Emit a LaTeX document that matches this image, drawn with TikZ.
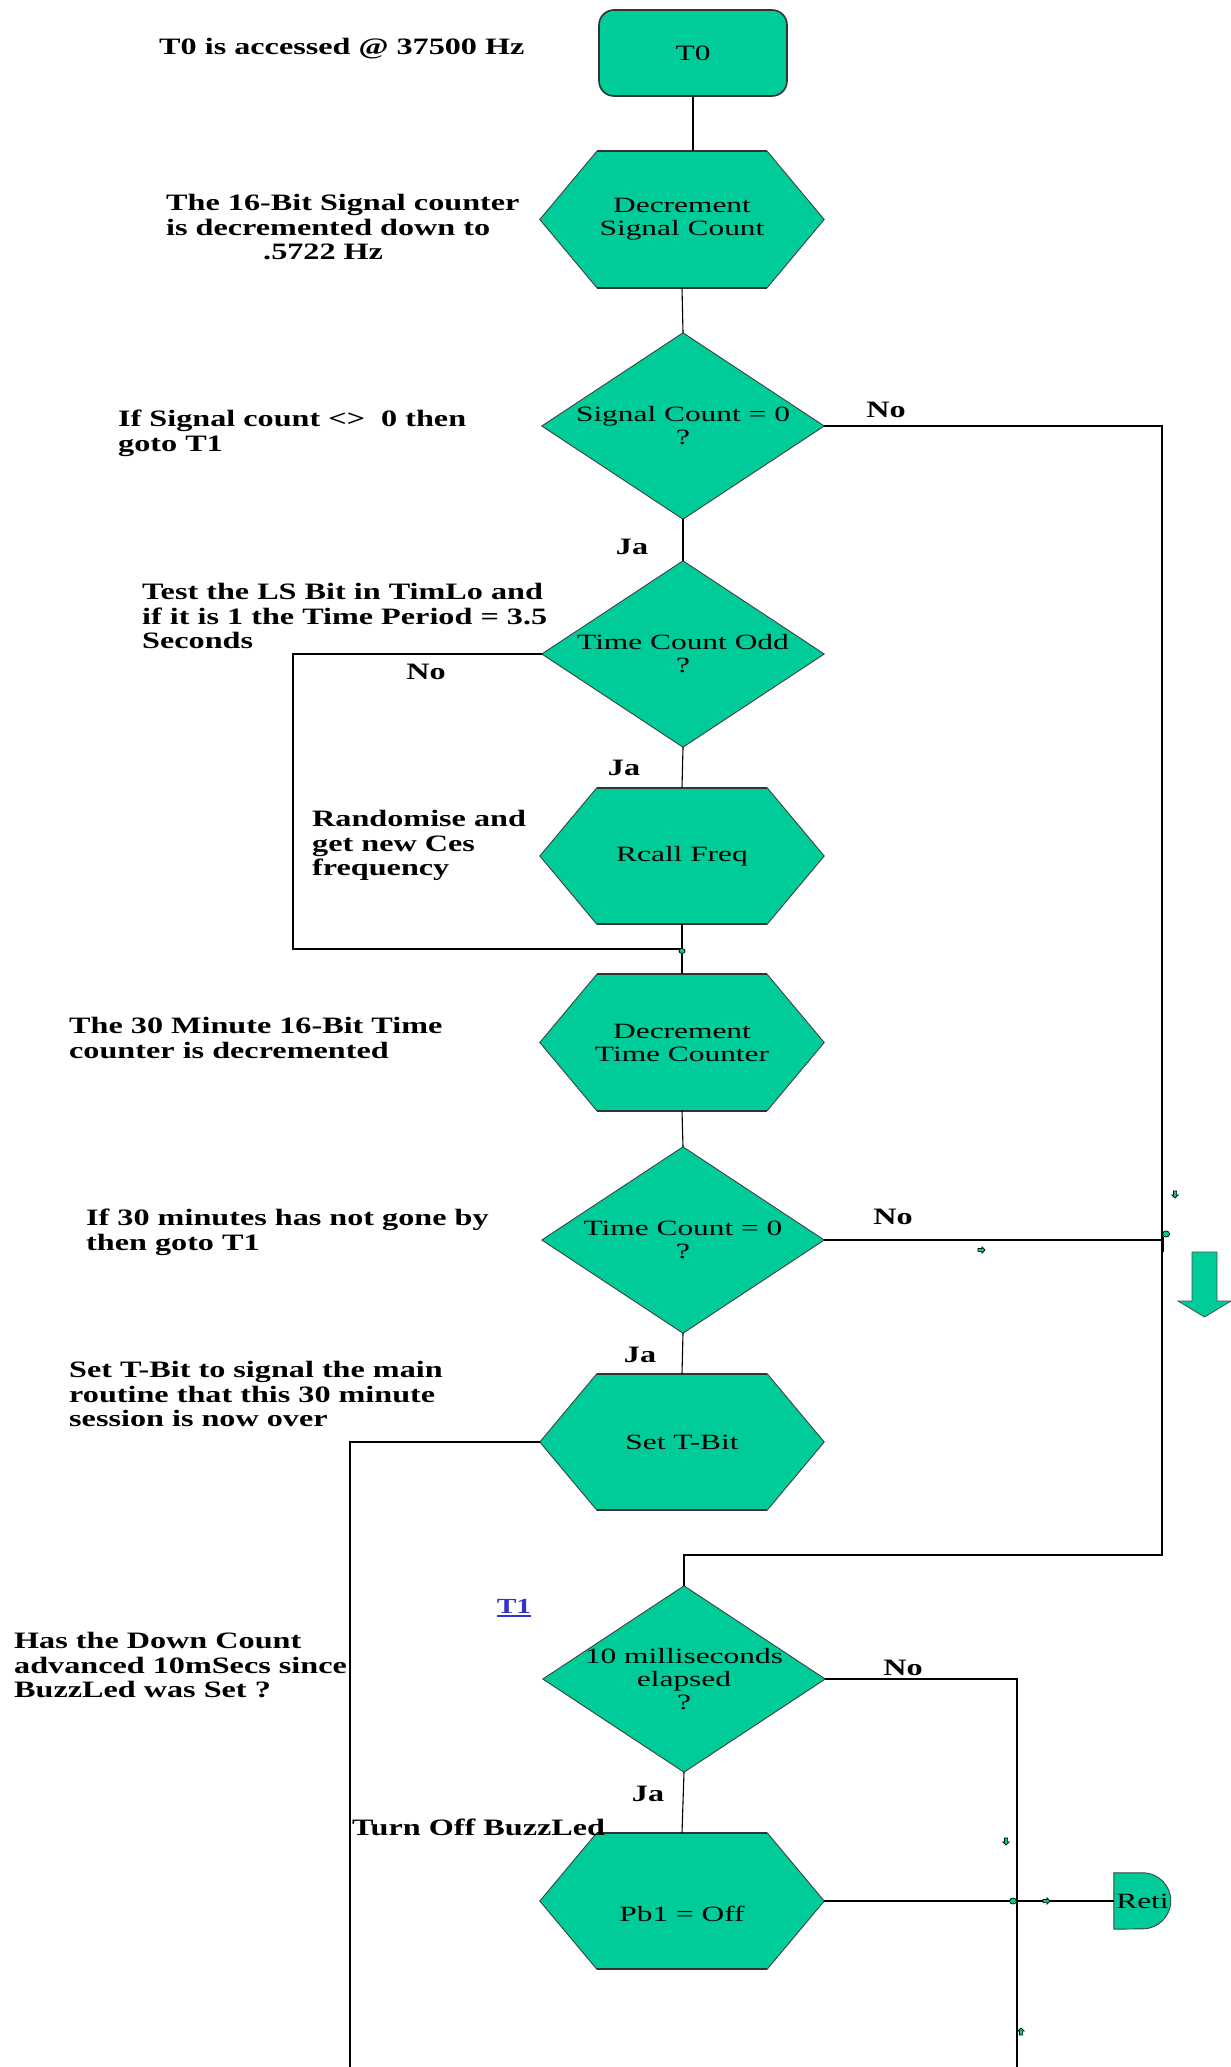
\documentclass[tikz,border=0pt]{standalone}
\usepackage{fontspec}
\setmainfont{Liberation Serif}
\newfontfamily\boxfont{Liberation Serif}[FakeStretch=1.44]
\newfontfamily\notefont{Liberation Serif}[FakeStretch=1.37]
\usetikzlibrary{backgrounds}
\pgfdeclarelayer{paper}
\pgfsetlayers{paper,background,main}

\definecolor{boxfill}{RGB}{0,204,153}
\definecolor{linkblue}{RGB}{51,51,204}

\tikzset{
  flowtext/.style={font=\boxfont\fontsize{21.8}{23}\selectfont, align=center, inner sep=0pt},
  hexnode/.style={flowtext, minimum width=284pt, minimum height=136pt},
  decnode/.style={flowtext, minimum width=282pt, minimum height=186pt},
  note/.style={font=\notefont\bfseries\fontsize{23.5}{24.4}\selectfont, align=left, anchor=north west, inner sep=0pt},
  yesno/.style={font=\notefont\bfseries\fontsize{23.5}{24.4}\selectfont, inner sep=0pt},
  shapeline/.style={draw=black!75, line width=0.9pt, fill=boxfill},
  rimline/.style={draw=black!80, line width=2.2pt},
  flow/.style={draw=black, line width=1.1pt},
  loopline/.style={draw=black, line width=1.6pt},
  marker/.style={draw=black, line width=0.7pt, fill=boxfill},
}

% hexagonal process box behind a named node
\newcommand\hexof[1]{%
  \begin{pgfonlayer}{background}
    \path[shapeline] ([xshift=57pt]#1.north west) -- ([xshift=-57pt]#1.north east)
      -- (#1.east) -- ([xshift=-57pt]#1.south east) -- ([xshift=57pt]#1.south west)
      -- (#1.west) -- cycle;
    \draw[rimline] ([xshift=57pt]#1.north west) -- ([xshift=-57pt]#1.north east);
    \draw[rimline] ([xshift=57pt]#1.south west) -- ([xshift=-57pt]#1.south east);
  \end{pgfonlayer}}

% decision diamond behind a named node
\newcommand\diamondof[1]{%
  \begin{pgfonlayer}{background}
    \path[shapeline] (#1.north) -- (#1.east) -- (#1.south) -- (#1.west) -- cycle;
  \end{pgfonlayer}}

% tiny connection arrow mark
\newcommand\tinyarrow[3]{%
  \filldraw[marker, shift={(#1,#2)}, rotate=#3]
    (-3,-1.6) -- (1,-1.6) -- (1,-3.2) -- (4,0) -- (1,3.2) -- (1,1.6) -- (-3,1.6) -- cycle;}

\begin{document}
\begin{tikzpicture}[x=1pt,y=-1pt]
\begin{pgfonlayer}{paper}
  \fill[white] (0,0) rectangle (1231,2067);
\end{pgfonlayer}
\useasboundingbox (0,0) rectangle (1231,2067);

% ---- flow chart boxes ----
\node[flowtext, minimum width=188pt, minimum height=86pt, rounded corners=15pt,
      draw=black!80, line width=1.6pt, fill=boxfill] (t0) at (693,53) {T0};
\node[hexnode] (dec1) at (682,219.5) {Decrement\\Signal Count}; \hexof{dec1}
\node[decnode] (sc) at (683,426) {Signal Count = 0\\?}; \diamondof{sc}
\node[decnode] (tco) at (683,654) {Time Count Odd\\?}; \diamondof{tco}
\node[hexnode] (rcall) at (682,856) {Rcall Freq}; \hexof{rcall}
\node[hexnode] (dtc) at (682,1042.5) {Decrement\\Time Counter}; \hexof{dtc}
\node[decnode] (tc0) at (683,1240) {Time Count = 0\\?}; \diamondof{tc0}
\node[hexnode] (stb) at (682,1442) {Set T-Bit}; \hexof{stb}
\node[decnode] (ms) at (684,1679) {10 milliseconds\\elapsed\\?}; \diamondof{ms}
\node[hexnode] (pb1) at (682,1901) {}; \hexof{pb1}
\node[flowtext] (pb1text) at ([yshift=-13pt]pb1.center) {Pb1 = Off};
\node[flowtext, minimum width=57pt, minimum height=56pt] (reti) at (1142.5,1901) {Reti};
\begin{pgfonlayer}{background}
  \path[shapeline] (reti.north west) -- ++(29pt,0)
    arc[start angle=90, end angle=-90, radius=28pt] -- (reti.south west) -- cycle;
\end{pgfonlayer}

% ---- connectors ----
\draw[flow] (t0.south) -- (t0.south |- dec1.north);
\draw[flow] (dec1.south) -- (sc.north);
\draw[flow] (sc.south) -- (tco.north);
\draw[flow] (tco.south) -- (rcall.north);
\draw[flow] (rcall.south) -- (dtc.north);
\draw[flow] (dtc.south) -- (tc0.north);
\draw[flow] (tc0.south) -- (stb.north);
\draw[flow] (ms.south) -- (pb1.north);
\draw[loopline] (pb1.east) -- (reti.west);

\coordinate (rbus) at (1162,1555);
\draw[loopline] (sc.east) -| (rbus) -- (rbus -| ms.north) -- (ms.north);
\draw[loopline] (tc0.east) -- (tc0.east -| rbus);
\coordinate (oddloop) at (293,949);
\draw[loopline] (tco.west) -| (oddloop) -- (oddloop -| rcall.south);
\coordinate (tbitdrop) at (350,2067);
\draw[loopline] (stb.west) -| (tbitdrop);
\coordinate (msdrop) at (1017,2067);
\draw[loopline] (ms.east) -| (msdrop);

% ---- junction marks ----
\draw[line width=2.4pt] (1163,1237) -- (1163,1252);
\filldraw[marker] (682,951) ellipse (3pt and 2.5pt);
\filldraw[marker] (1166,1234) ellipse (3.5pt and 3pt);
\filldraw[marker] (1013,1901) ellipse (3.5pt and 3pt);
\tinyarrow{1175}{1194}{-90}
\tinyarrow{981}{1250}{0}
\tinyarrow{1046}{1901}{0}
\tinyarrow{1006}{1841}{-90}
\tinyarrow{1021}{2032}{90}

% ---- big down arrow ----
\filldraw[draw=black!70, line width=0.8pt, fill=boxfill]
  (1192,1252) -- (1217,1252) -- (1217,1301) -- (1231,1301) -- (1204.5,1317)
  -- (1178,1301) -- (1192,1301) -- cycle;

% ---- branch labels ----
\node[yesno] (no1) at (886,409.5) {No};
\node[yesno] (ja1) at (632,547) {Ja};
\node[yesno] (no2) at (426,672) {No};
\node[yesno] (ja2) at (624,768) {Ja};
\node[yesno] (no3) at (893,1217) {No};
\node[yesno] (ja3) at (640,1355) {Ja};
\node[yesno] (no4) at (903,1668) {No};
\node[yesno] (ja4) at (648,1794) {Ja};
\node[yesno, text=linkblue, font=\notefont\bfseries\fontsize{21.5}{23}\selectfont] (t1) at (514,1606) {T1};
\draw[linkblue, line width=2pt] ([yshift=-3pt]t1.south west) -- ([yshift=-3pt]t1.south east);

% ---- comments beside the chart ----
\node[note] (n1) at (159,37.5) {\strut T0 is accessed @ 37500 Hz};
\node[note] (n2) at (166,193.5) {\strut The 16-Bit Signal counter\\is decremented down to\\\hspace*{97pt}.5722 Hz};
\node[note] (n3) at (118,409.5) {\strut If Signal count <>\ \ 0 then\\goto T1};
\node[note] (n4) at (142,582.5) {\strut Test the LS Bit in TimLo and\\if it is 1 the Time Period = 3.5\\Seconds};
\node[note] (n5) at (312,809.5) {\strut Randomise and\\get new Ces\\frequency};
\node[note] (n6) at (69,1016.5) {\strut The 30 Minute 16-Bit Time\\counter is decremented};
\node[note] (n7) at (86,1208.5) {\strut If 30 minutes has not gone by\\then goto T1};
\node[note] (n8) at (69,1360.5) {\strut Set T-Bit to signal the main\\routine that this 30 minute\\session is now over};
\node[note] (n9) at (14,1631.5) {\strut Has the Down Count\\advanced 10mSecs since\\BuzzLed was Set ?};
\node[note] (n10) at (352,1818.5) {\strut Turn Off BuzzLed};
\end{tikzpicture}
\end{document}
